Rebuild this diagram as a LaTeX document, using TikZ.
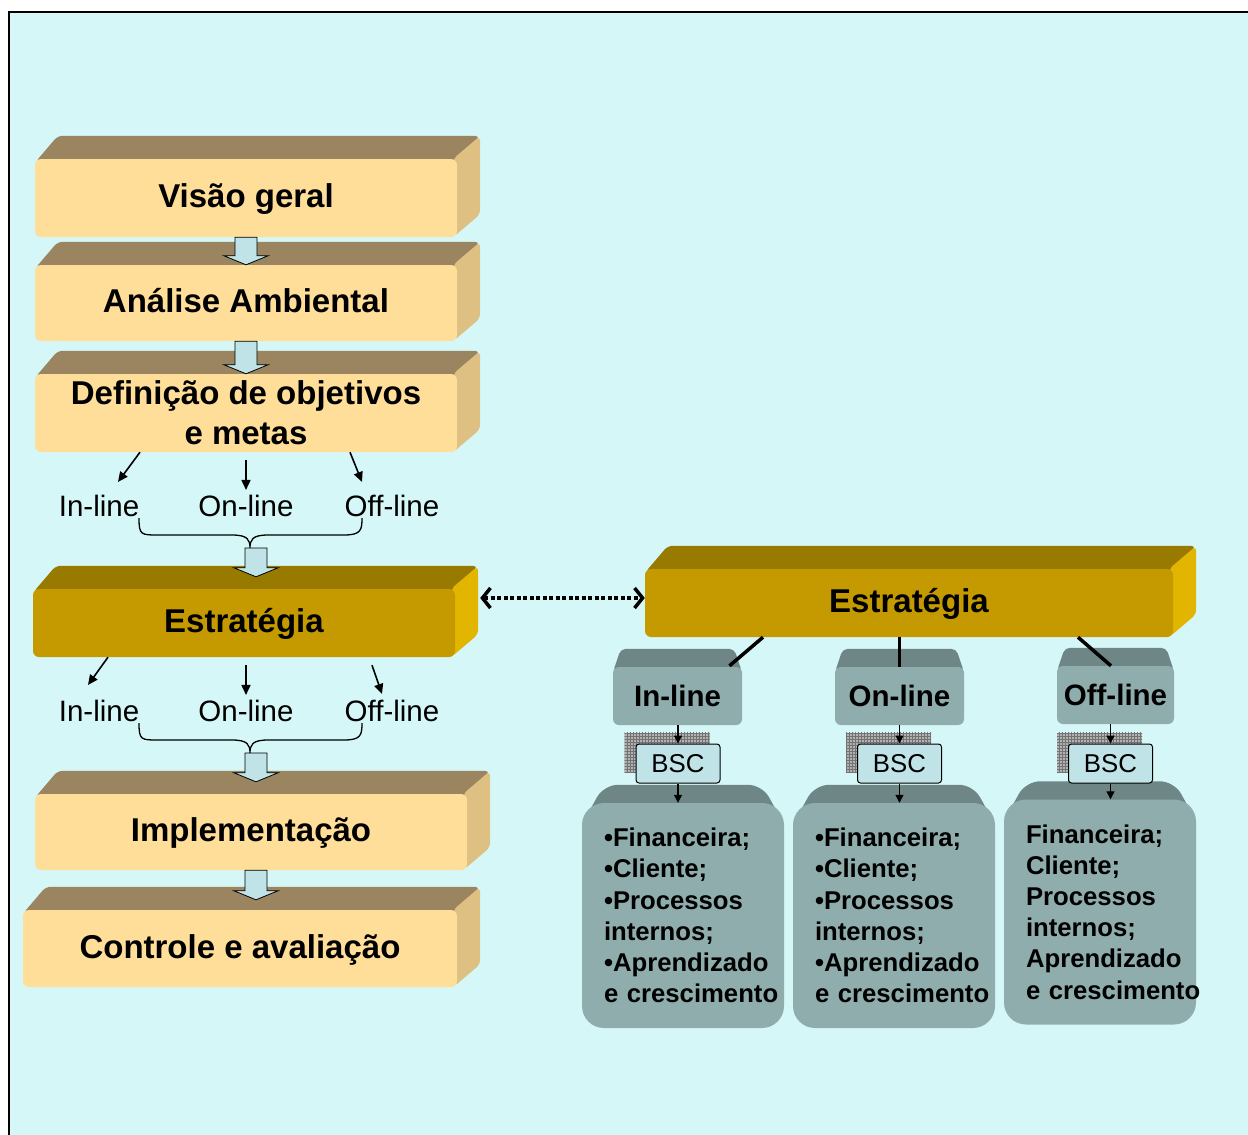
\documentclass[tikz,border=0pt]{standalone}
\usepackage{fontspec}
\setmainfont{Liberation Sans}
\definecolor{bgcyan}{RGB}{214,247,247}
\definecolor{tanfront}{RGB}{255,222,153}
\definecolor{tantop}{RGB}{155,132,96}
\definecolor{tanside}{RGB}{222,192,130}
\definecolor{goldfront}{RGB}{196,154,0}
\definecolor{goldtop}{RGB}{153,122,0}
\definecolor{goldside}{RGB}{226,182,0}
\definecolor{slatefront}{RGB}{143,173,173}
\definecolor{slatetop}{RGB}{110,134,134}
\definecolor{arrowblue}{RGB}{191,227,230}
\usetikzlibrary{arrows.meta,positioning,calc,patterns}
\pgfdeclarelayer{bottom}
\pgfdeclarelayer{background}
\pgfsetlayers{bottom,background,main}
\hyphenpenalty=10000

\begin{document}
\begin{tikzpicture}[x=1pt,y=-1pt,
  stage/.style={fill=tanfront,rounded corners=6pt,minimum width=422pt,minimum height=78pt,inner sep=0pt,align=center,font=\fontsize{33}{40}\selectfont\bfseries},
  oneline/.style={text height=26pt,text depth=7pt},
  lbl/.style={inner sep=0pt,font=\fontsize{29.5}{34}\selectfont},
  slate/.style={fill=slatefront,rounded corners=6pt,minimum width=129pt,minimum height=58pt,inner sep=0pt,font=\fontsize{29.5}{34}\selectfont\bfseries},
  bsc/.style={draw=black,line width=1pt,fill=arrowblue,rounded corners=3pt,minimum width=84pt,minimum height=39pt,inner sep=0pt,font=\fontsize{25.8}{30}\selectfont},
  bigbox/.style={fill=slatefront,rounded corners=22pt,minimum width=202pt,minimum height=225pt,text width=158pt,inner xsep=22pt,inner ysep=0pt,align=left,font=\fontsize{25.7}{31.2}\selectfont\bfseries},
  thinarr/.style={line width=1.6pt,-{Triangle[length=10pt,width=9pt]}},
  tinyarr/.style={line width=1.2pt,-{Triangle[length=8pt,width=8pt]}},
  stem/.style={line width=3.5pt},
  dotarr/.style={line width=4pt,dash pattern=on 4pt off 2.5pt,{Straight Barb[length=8pt,width=20pt,line width=3.5pt]}-{Straight Barb[length=8pt,width=20pt,line width=3.5pt]}},
  brace/.style={line width=1.3pt},
  blockarr/.style={draw=black,line width=0.8pt,fill=arrowblue,
    to path={let \p1=(\tikztostart),\p2=(\tikztotarget) in
      (\x1-11pt,\y1) -- (\x1+11pt,\y1) -- (\x1+11pt,\y2+9pt) -- (\x1+22pt,\y2+9pt)
      -- (\x1,\y2) -- (\x1-22pt,\y2+9pt) -- (\x1-11pt,\y2+9pt) -- cycle}}]
  \useasboundingbox (0,0) rectangle (1248,1135);

  % left column
  \node[stage,oneline] (vis) at (246,198) {Visão geral};
  \node[stage,oneline,minimum height=76pt] (ana) at (246,303) {Análise Ambiental};
  \node[stage] (def) at (246,413) {Definição de objetivos\\e metas};
  \node[stage,oneline,fill=goldfront,minimum height=68pt] (est1) at (244,623) {Estratégia};
  \node[stage,oneline,minimum width=432pt,minimum height=76pt] (imp) at (251,832) {Implementação};
  \node[stage,oneline,minimum width=434pt,minimum height=77pt] (ctl) at (240,948.5) {Controle e avaliação};

  \node[lbl] (in1) at (99,506) {In-line};
  \node[lbl] (on1) at (246,506) {On-line};
  \node[lbl] (off1) at (392,506) {Off-line};
  \node[lbl] (in2) at (99,711) {In-line};
  \node[lbl] (on2) at (246,711) {On-line};
  \node[lbl] (off2) at (392,711) {Off-line};
  \coordinate (cusp1) at (250,548);
  \coordinate (cusp2) at (250,753);

  % right side
  \node[stage,oneline,fill=goldfront,minimum width=528pt,minimum height=68pt] (est2) at (909,603) {Estratégia};
  \node[slate] (inb) at (677.5,696) {In-line};
  \node[slate] (onb) at (899.5,696) {On-line};
  \node[slate,minimum width=117pt] (offb) at (1115.5,695) {Off-line};
  \node[bsc] (bsc1) at (678,763.5) {BSC};
  \node[bsc] (bsc2) at (899.5,763.5) {BSC};
  \node[bsc] (bsc3) at (1110.5,763.5) {BSC};
  \node[bigbox] (big1) at (683,915.5) {•Financeira;\\•Cliente;\\•Processos\\internos;\\•Aprendizado\\e~crescimento};
  \node[bigbox] (big2) at (894,915.5) {•Financeira;\\•Cliente;\\•Processos\\internos;\\•Aprendizado\\e~crescimento};
  \node[bigbox,minimum width=192pt,text width=148pt] (big3) at (1100,912) {Financeira;\\Cliente;\\Processos\\internos;\\Aprendizado\\e~crescimento};

  % connectors
  \draw[blockarr] (vis.south) to (ana.north);
  \draw[blockarr] (ana.south) to (def.north);
  \draw[blockarr] ($(cusp1)+(6,0)$) to ($(est1.north)+(12,-12)$);
  \draw[blockarr] ($(cusp2)+(6,0)$) to ($(imp.north)+(5,-12)$);
  \draw[blockarr] ($(imp.south)+(5,0)$) to ($(ctl.north)+(16,-10)$);

  \draw[thinarr] ($(def.south)+(-106,0)$) -- ($(in1.north)+(19,-13)$);
  \draw[thinarr] ($(def.south)+(0,8)$) -- ($(on1.north)+(0,-5)$);
  \draw[thinarr] ($(def.south)+(104,0)$) -- ($(off1.north)+(-30,-13)$);
  \draw[thinarr] ($(est1.south)+(-136,0)$) -- ($(in2.north)+(-11,-15)$);
  \draw[thinarr] ($(est1.south)+(2,8)$) -- ($(on2.north)+(0,-5)$);
  \draw[thinarr] ($(est1.south)+(128,8)$) -- ($(off2.north)+(-10,-6)$);

  \foreach \y in {0,205}
    \draw[brace] (139,518+\y) .. controls (139,535+\y) and (141,535+\y) .. (158,535+\y) -- (232,535+\y)
      .. controls (248,535+\y) and (250,540+\y) .. (250,548+\y)
      .. controls (250,540+\y) and (252,535+\y) .. (268,535+\y) -- (344,535+\y)
      .. controls (361,535+\y) and (362,530+\y) .. (362,518+\y);

  \draw[dotarr] ($(est1.east)+(25,-25)$) -- ($(est2.west)+(0,-5)$);
  \draw[stem] ($(est2.south)+(-146,0)$) -- ($(inb.north)+(52,-1)$);
  \draw[stem] (onb.north |- est2.south) -- (onb.north);
  \draw[stem] ($(est2.south)+(169,0)$) -- ($(offb.north)+(-4.5,0)$);

  \foreach \a/\b/\c in {inb/bsc1/big1,onb/bsc2/big2,offb/bsc3/big3}{
    \draw[tinyarr] (\a.south -| \b.north) -- (\b.north);
    \draw[tinyarr] (\b.south) -- (\b.south |- \c.north);
  }

  % faces and shadows
  \begin{pgfonlayer}{background}
    \foreach \b/\tp/\sd in {vis/tantop/tanside,ana/tantop/tanside,def/tantop/tanside,imp/tantop/tanside,ctl/tantop/tanside,est1/goldtop/goldside,est2/goldtop/goldside}{
      \fill[\tp,rounded corners=5pt] ($(\b.north west)+(0,4)$) -- ($(\b.north west)+(23,-23)$) -- ($(\b.north east)+(23,-23)$) -- ($(\b.north east)+(0,4)$) -- cycle;
      \fill[\sd,rounded corners=5pt] ($(\b.north east)+(-4,0)$) -- ($(\b.north east)+(23,-23)$) -- ($(\b.south east)+(23,-23)$) -- ($(\b.south east)+(-4,0)$) -- cycle;
    }
    \foreach \b in {inb,onb,offb}
      \fill[slatetop,rounded corners=5pt] ($(\b.north west)+(0,6)$) -- ($(\b.north west)+(8,-18)$) -- ($(\b.north east)+(-8,-18)$) -- ($(\b.north east)+(0,6)$) -- cycle;
    \foreach \b in {big1,big2,big3}
      \fill[slatetop,rounded corners=14pt] ($(\b.north west)+(0,22)$) -- ($(\b.north west)+(22,-18)$) -- ($(\b.north east)+(-22,-18)$) -- ($(\b.north east)+(0,22)$) -- cycle;
    \foreach \b in {bsc1,bsc2,bsc3}{
      \fill[gray!60] ($(\b.south west)+(-11,-11)$) rectangle ($(\b.north east)+(-11,-11)$);
      \fill[pattern=grid,pattern color=gray!90!black] ($(\b.south west)+(-11,-11)$) rectangle ($(\b.north east)+(-11,-11)$);
    }
  \end{pgfonlayer}
  \begin{pgfonlayer}{bottom}
    \fill[bgcyan] (9,12) rectangle (1260,1150);
    \draw[line width=2pt] (9,1150) -- (9,12) -- (1260,12);
  \end{pgfonlayer}
\end{tikzpicture}
\end{document}
